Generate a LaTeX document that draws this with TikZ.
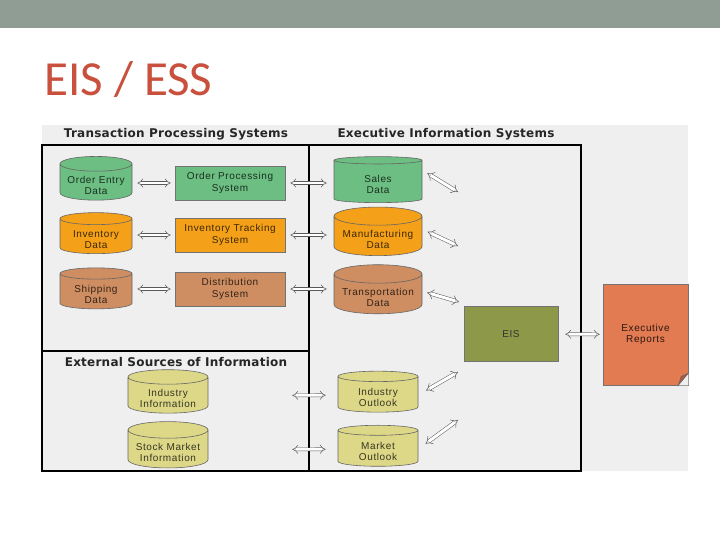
\documentclass[tikz,border=0pt]{standalone}
\usepackage{fontspec}
\setmainfont{Liberation Sans}
\newfontfamily\titlefont{Carlito}
\newfontfamily\boxfont[LetterSpace=6]{Liberation Sans}
\newfontfamily\headfont[LetterSpace=2]{DejaVu Sans}
\usetikzlibrary{shapes.geometric,arrows.meta,positioning}
\definecolor{barcolor}{RGB}{143,157,148}
\definecolor{titlecolor}{RGB}{200,80,60}
\definecolor{panelbg}{RGB}{239,239,239}
\definecolor{greenfill}{RGB}{108,190,130}
\definecolor{orangefill}{RGB}{244,160,24}
\definecolor{brownfill}{RGB}{206,142,98}
\definecolor{yellowfill}{RGB}{221,216,136}
\definecolor{eisfill}{RGB}{141,152,72}
\definecolor{reportfill}{RGB}{226,122,82}

% text sits a little lower in the body of a cylinder
\newcommand{\cyltext}[1]{\raisebox{-3.5pt}[\height][\depth]{\begin{tabular}{@{}c@{}}#1\end{tabular}}}

\tikzset{
  cyl/.style={cylinder, shape border rotate=90, aspect=0.25, draw=black!60,
    line width=0.6pt, minimum width=72pt, minimum height=41pt, align=center,
    inner xsep=1pt, inner ysep=0pt, font=\boxfont\fontsize{10}{11.5}\selectfont},
  sysbox/.style={rectangle, draw=black!55, line width=0.6pt, minimum width=110pt,
    minimum height=34pt, align=center, font=\boxfont\fontsize{10}{11.5}\selectfont},
  dblarrow/.style={draw=black!65, line width=0.5pt, double=white,
    double distance=2.6pt, {Implies[scale=1.4]}-{Implies[scale=1.4]}},
  frame/.style={draw=black, line width=1.3pt},
  headtext/.style={font=\headfont\bfseries\fontsize{12}{14}\selectfont, text=black!85}
}

\begin{document}
\begin{tikzpicture}[x=1pt, y=-1pt]

\useasboundingbox (0,0) rectangle (720,540);
\fill[white] (0,0) rectangle (720,540);

% ================= SLIDE: BAR AND TITLE =================
\fill[barcolor] (0,0) rectangle (720,28);
\node[font=\titlefont\fontsize{49}{49}\selectfont, text=titlecolor, anchor=base west, inner sep=0pt]
  (title) at (44,96) {EIS / ESS};

% Panel
\fill[panelbg] (42,125) rectangle (688,471);

% Headers
\node[headtext] (tpshead) at (176,134) {Transaction Processing Systems};
\node[headtext] (eishead) at (446,134) {Executive Information Systems};
\node[headtext] (exthead) at (176,362) {External Sources of Information};

% Frame
\draw[frame] (42,145) rectangle (581,471);
\draw[frame] (309,145) -- (309,471);
\draw[frame] (42,351) -- (309,351);

% ================= LEFT: TRANSACTION PROCESSING =================
\node[cyl, fill=greenfill, text=greenfill!25!black] (orderdata) at (96,183) {\cyltext{Order Entry\\Data}};
\node[cyl, fill=orangefill, text=orangefill!25!black] (invdata) at (96,237) {\cyltext{Inventory\\Data}};
\node[cyl, fill=brownfill, text=brownfill!25!black] (shipdata) at (96,292) {\cyltext{Shipping\\Data}};

\node[sysbox, fill=greenfill, text=greenfill!25!black] (ordersys) at (230,183) {Order Processing\\System};
\node[sysbox, fill=orangefill, text=orangefill!25!black] (invsys) at (230,235) {Inventory Tracking\\System};
\node[sysbox, fill=brownfill, text=brownfill!25!black] (distsys) at (230,289) {Distribution\\System};

% ================= MIDDLE: EIS DATA =================
\node[cyl, fill=greenfill, text=greenfill!25!black, minimum width=88pt, minimum height=46pt]
  (sales) at (378,182) {\cyltext{Sales\\Data}};
\node[cyl, fill=orangefill, text=orangefill!25!black, minimum width=88pt, minimum height=46pt]
  (manuf) at (378,237) {\cyltext{Manufacturing\\Data}};
\node[cyl, fill=brownfill, text=brownfill!25!black, minimum width=88pt, minimum height=46pt]
  (transp) at (378,295) {\cyltext{Transportation\\Data}};

% External sources
\node[cyl, fill=yellowfill, text=yellowfill!25!black, minimum width=80pt]
  (indinfo) at (168,396) {\cyltext{Industry\\Information}};
\node[cyl, fill=yellowfill, text=yellowfill!25!black, minimum width=80pt]
  (stockinfo) at (168,450) {\cyltext{Stock Market\\Information}};
\node[cyl, fill=yellowfill, text=yellowfill!25!black, minimum width=80pt]
  (indout) at (378,395) {\cyltext{Industry\\Outlook}};
\node[cyl, fill=yellowfill, text=yellowfill!25!black, minimum width=80pt]
  (mktout) at (378,449) {\cyltext{Market\\Outlook}};

% ================= RIGHT: EIS AND REPORTS =================
\node[sysbox, fill=eisfill, minimum width=94pt, minimum height=55pt, text=black!80] (eis) at (511,334) {EIS};
\node[sysbox, fill=reportfill, minimum width=85pt, minimum height=101pt, text=reportfill!20!black]
  (reports) at (645.5,334.5) {Executive\\Reports};
% folded corner
\fill[panelbg] (reports.south east) -- ++(-10,0) -- ++(10,-12) -- cycle;
\filldraw[fill=reportfill!75!black, draw=black!60, line width=0.5pt]
  ([xshift=-10pt]reports.south east) -- ++(10,-12) -- ++(-7,3) -- cycle;

% Arrows
\coordinate (salestip) at (458,192);
\coordinate (manuftip) at (458,246);
\coordinate (transptip) at (459,302);
\coordinate (indtip) at (458,372);
\coordinate (mkttip) at (458,420);

\draw[dblarrow, shorten <=5pt, shorten >=4pt] (orderdata.east |- ordersys) -- (ordersys);
\draw[dblarrow, shorten <=5pt, shorten >=4pt] (invdata.east |- invsys) -- (invsys);
\draw[dblarrow, shorten <=5pt, shorten >=4pt] (shipdata.east |- distsys) -- (distsys);
\draw[dblarrow, shorten <=5pt, shorten >=7pt] (ordersys) -- (ordersys -| sales.west);
\draw[dblarrow, shorten <=5pt, shorten >=7pt] (invsys) -- (invsys -| manuf.west);
\draw[dblarrow, shorten <=5pt, shorten >=7pt] (distsys) -- (distsys -| transp.west);
\draw[dblarrow, shorten <=84pt, shorten >=12pt] (indinfo) -- (indout);
\draw[dblarrow, shorten <=84pt, shorten >=12pt] (stockinfo) -- (mktout);

\draw[dblarrow, double distance=3pt, shorten <=6pt] (sales.15) -- (salestip);
\draw[dblarrow, double distance=3pt, shorten <=6pt] (manuf.10) -- (manuftip);
\draw[dblarrow, double distance=3pt, shorten <=5pt] (transp.5) -- (transptip);
\draw[dblarrow, double distance=3pt, shorten <=9pt] (indout.east) -- (indtip);
\draw[dblarrow, double distance=3pt, shorten <=9pt] (mktout.east) -- (mkttip);

\draw[dblarrow, shorten <=7pt, shorten >=3pt] (eis) -- (reports);

\end{tikzpicture}
\end{document}
